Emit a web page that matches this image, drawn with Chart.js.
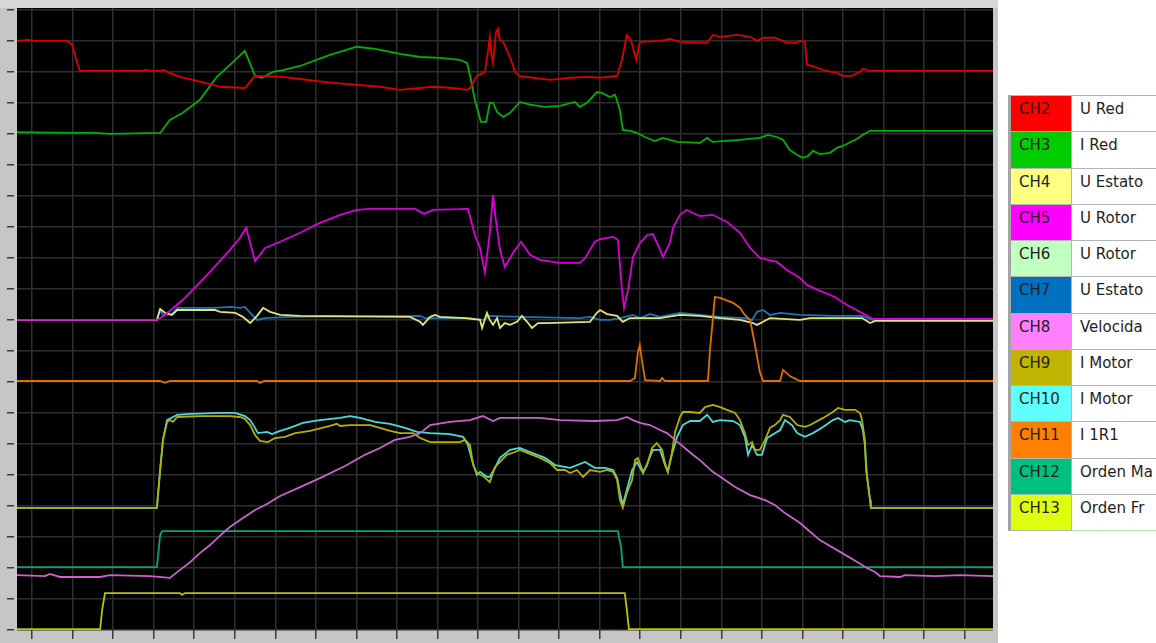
<!DOCTYPE html>
<html>
<head>
<meta charset="utf-8">
<title>Registro de canales</title>
<script src="https://cdn.jsdelivr.net/npm/chart.js@4.4.1/dist/chart.umd.min.js"></script>
<style>
  body { margin: 0; background: #fff; width: 1156px; height: 643px; overflow: hidden; position: relative; font-family: "DejaVu Sans", sans-serif; }
  #scope { position: absolute; left: 0; top: 0; width: 998px; height: 643px; }
  #channels { position: absolute; left: 1008px; top: 95px; width: 180px; table-layout: fixed; border-collapse: collapse; border-left: 3px solid #a4a4a4; }
  #channels tr { height: 36.25px; }
  #channels td { border: 1px solid #b4b4b4; padding: 4px 0 0 8px; vertical-align: top; font-size: 15px; color: #1e1e1e; white-space: nowrap; overflow: hidden; }
  #channels td.code { width: 52px; }
  #channels td.name { background: #fff; }
  #channels tr:last-child td.name { border-bottom-color: #a8e8a8; }
</style>
</head>
<body>
<canvas id="scope" width="998" height="643"></canvas>
<table id="channels"></table>
<script>
// channel list, as in the recorder's legend
const channelCodes = ['CH2', 'CH3', 'CH4', 'CH5', 'CH6', 'CH7', 'CH8', 'CH9', 'CH10', 'CH11', 'CH12', 'CH13'];
const channelNames = ['U Red', 'I Red', 'U Estato', 'U Rotor', 'U Rotor', 'U Estato', 'Velocida', 'I Motor', 'I Motor', 'I 1R1', 'Orden Ma', 'Orden Fr'];
const swatchColors = ['#ff0000', '#00cc00', '#ffff80', '#ff00ff', '#c0ffc0', '#0070c0', '#ff80ff', '#c0b400', '#60ffff', '#ff8000', '#00c080', '#dfff10'];
const traceColors = ['#d80000', '#00b000', '#e4e47c', '#d800d8', '#b0f0b0', '#1a74b8', '#c864c8', '#b4b000', '#48dcdc', '#e07000', '#00a874', '#bcc400'];

// traces: [time (div), level (div)]
const uRed = [[-0.37, 19.00], [-0.10, 19.03], [0.07, 19.00], [0.86, 19.00], [0.99, 18.87], [1.09, 18.39], [1.18, 18.03],
  [2.74, 18.03], [2.79, 18.06], [2.91, 18.03], [3.16, 18.03], [3.23, 18.06], [3.40, 17.97], [3.65, 17.84], [4.07, 17.71],
  [4.46, 17.58], [4.64, 17.52], [5.25, 17.48], [5.50, 17.87], [6.19, 17.84], [6.61, 17.77], [7.35, 17.65], [8.58, 17.52],
  [9.08, 17.42], [9.89, 17.52], [10.38, 17.48], [10.73, 17.42], [10.80, 17.48], [10.97, 17.87], [11.17, 18.00], [11.25, 18.71],
  [11.29, 19.13], [11.32, 18.71], [11.37, 18.29], [11.44, 19.26], [11.49, 19.39], [11.54, 19.03], [11.62, 18.97], [11.71, 18.71],
  [11.81, 18.39], [11.91, 18.00], [12.01, 17.87], [12.36, 17.81], [12.77, 17.74], [13.27, 17.81], [13.76, 17.84], [14.01, 17.81],
  [14.43, 17.87], [14.55, 18.39], [14.67, 19.19], [14.77, 19.03], [14.90, 18.39], [14.99, 18.97], [15.49, 19.00], [15.73, 19.06],
  [15.98, 18.97], [16.65, 18.94], [16.79, 19.19], [16.97, 19.13], [17.39, 19.19], [17.71, 19.13], [17.88, 19.00], [18.03, 19.10],
  [18.32, 19.10], [18.62, 18.94], [18.87, 18.94], [18.94, 19.00], [19.06, 18.97], [19.11, 18.23], [19.31, 18.16], [19.51, 18.06],
  [19.85, 17.97], [20.00, 17.87], [20.22, 17.87], [20.42, 18.00], [20.49, 18.10], [20.67, 18.03], [23.70, 18.03]];

const iRed = [[-0.37, 16.06], [0.94, 16.03], [1.55, 16.03], [1.92, 16.00], [3.16, 16.03], [3.40, 16.45], [3.72, 16.68],
  [4.14, 17.10], [4.56, 17.84], [4.96, 18.32], [5.25, 18.68], [5.50, 17.87], [5.67, 17.81], [5.94, 18.00], [6.19, 18.06],
  [6.61, 18.19], [7.35, 18.55], [8.01, 18.81], [8.46, 18.74], [9.08, 18.58], [9.57, 18.48], [10.06, 18.45], [10.55, 18.39],
  [10.73, 18.29], [10.80, 17.90], [10.92, 17.10], [11.07, 16.39], [11.20, 16.39], [11.29, 17.00], [11.37, 17.00], [11.47, 16.71],
  [11.62, 16.55], [11.79, 16.68], [12.03, 17.03], [12.28, 16.94], [12.65, 16.87], [13.02, 16.90], [13.39, 17.03], [13.51, 16.87],
  [13.69, 17.00], [13.93, 17.35], [14.06, 17.32], [14.25, 17.19], [14.38, 17.26], [14.50, 16.77], [14.57, 16.13], [14.75, 16.10],
  [14.92, 16.03], [15.12, 15.90], [15.36, 15.77], [15.56, 15.87], [15.73, 15.81], [15.91, 15.74], [16.47, 15.71], [16.65, 15.87],
  [16.79, 15.74], [17.46, 15.81], [17.95, 15.87], [18.15, 15.97], [18.37, 15.90], [18.52, 15.81], [18.69, 15.48], [18.87, 15.32],
  [19.01, 15.23], [19.14, 15.29], [19.26, 15.45], [19.43, 15.35], [19.68, 15.39], [19.85, 15.55], [20.00, 15.61], [20.35, 15.84],
  [20.49, 15.97], [20.67, 16.10], [23.70, 16.10]];

const uEstato4 = [[-0.37, 10.00], [3.08, 10.00], [3.16, 10.35], [3.28, 10.23], [3.45, 10.16], [3.58, 10.32], [4.51, 10.32],
  [4.64, 10.26], [5.01, 10.23], [5.20, 10.10], [5.38, 9.90], [5.55, 10.13], [5.70, 10.39], [5.87, 10.26], [6.12, 10.16],
  [6.61, 10.13], [9.32, 10.10], [9.57, 9.94], [9.64, 9.84], [9.82, 10.10], [9.94, 10.16], [10.06, 10.10], [10.68, 10.06],
  [11.05, 10.00], [11.10, 9.74], [11.22, 10.23], [11.29, 10.00], [11.37, 9.84], [11.47, 10.06], [11.54, 9.74], [11.66, 9.90],
  [11.79, 9.84], [11.96, 9.94], [12.08, 10.13], [12.21, 9.94], [12.33, 9.74], [12.48, 9.90], [12.65, 9.90], [13.76, 9.94],
  [13.93, 10.23], [14.01, 10.32], [14.18, 10.19], [14.43, 10.13], [14.57, 9.94], [14.75, 10.06], [15.49, 10.06], [15.98, 10.16],
  [16.47, 10.13], [16.97, 10.06], [17.46, 10.00], [17.78, 9.90], [17.88, 9.84], [18.03, 9.94], [18.20, 10.06], [18.94, 10.00],
  [19.19, 10.06], [20.47, 10.06], [20.67, 9.90], [20.79, 9.97], [23.70, 9.97]];

const uRotor = [[-0.37, 10.00], [3.08, 10.00], [3.28, 10.16], [3.72, 10.65], [4.32, 11.45], [4.88, 12.26], [5.13, 12.65],
  [5.28, 12.97], [5.50, 11.90], [5.75, 12.32], [6.12, 12.52], [6.61, 12.81], [7.10, 13.13], [7.60, 13.39], [8.01, 13.55],
  [8.34, 13.58], [9.45, 13.58], [9.67, 13.42], [9.89, 13.55], [10.75, 13.58], [10.80, 13.35], [10.92, 12.74], [11.05, 12.32],
  [11.17, 11.52], [11.29, 12.81], [11.37, 14.03], [11.44, 13.23], [11.54, 12.26], [11.66, 11.71], [11.86, 12.16], [12.06, 12.52],
  [12.28, 12.10], [12.53, 11.94], [13.02, 11.84], [13.51, 11.84], [13.64, 12.00], [13.88, 12.52], [14.01, 12.61], [14.33, 12.68],
  [14.45, 12.58], [14.55, 10.97], [14.60, 10.39], [14.70, 10.97], [14.82, 12.03], [14.99, 12.48], [15.17, 12.74], [15.31, 12.77],
  [15.49, 12.26], [15.56, 12.03], [15.73, 12.48], [15.81, 12.97], [15.98, 13.39], [16.15, 13.55], [16.30, 13.45], [16.47, 13.35],
  [16.79, 13.39], [17.14, 13.16], [17.46, 12.81], [17.71, 12.32], [17.95, 12.00], [18.15, 11.94], [18.37, 11.87], [18.62, 11.61],
  [18.94, 11.35], [19.11, 11.13], [19.38, 10.97], [19.80, 10.74], [20.10, 10.48], [20.42, 10.26], [20.74, 10.03], [23.70, 10.03]];

const uEstato7 = [[-0.37, 10.00], [3.08, 10.00], [3.16, 10.32], [3.23, 10.16], [3.45, 10.19], [3.58, 10.39], [4.51, 10.39],
  [4.88, 10.42], [5.13, 10.39], [5.25, 10.42], [5.38, 10.23], [5.55, 10.00], [5.75, 10.06], [6.36, 10.10], [9.57, 10.13],
  [9.69, 10.06], [10.80, 10.06], [11.12, 10.00], [11.29, 10.13], [12.03, 10.10], [13.51, 10.06], [13.76, 10.10], [14.01, 10.00],
  [14.25, 10.00], [14.50, 10.06], [14.82, 10.16], [14.99, 10.06], [15.24, 10.19], [15.49, 10.10], [15.73, 10.16], [15.98, 10.23],
  [16.47, 10.16], [16.97, 10.10], [17.58, 10.06], [17.76, 10.00], [17.88, 10.26], [18.03, 10.32], [18.20, 10.16], [18.45, 10.23],
  [18.94, 10.16], [19.80, 10.13], [20.47, 10.13], [20.62, 10.06], [20.74, 10.00], [23.70, 10.00]];

const velocidad = [[-0.37, 1.77], [0.32, 1.74], [0.44, 1.81], [0.69, 1.71], [1.68, 1.71], [1.92, 1.77], [2.91, 1.74],
  [3.40, 1.68], [3.65, 1.94], [3.90, 2.19], [4.14, 2.48], [4.39, 2.74], [4.71, 3.13], [4.88, 3.32], [5.13, 3.55], [5.50, 3.87],
  [5.75, 4.03], [6.12, 4.32], [6.61, 4.61], [7.10, 4.90], [7.72, 5.29], [8.21, 5.65], [8.58, 5.87], [8.95, 6.13], [9.32, 6.23],
  [9.57, 6.35], [9.82, 6.61], [10.31, 6.71], [10.80, 6.77], [11.12, 6.90], [11.37, 6.74], [11.54, 6.84], [12.53, 6.84],
  [13.02, 6.77], [13.88, 6.74], [14.43, 6.77], [14.67, 6.87], [14.82, 6.77], [14.99, 6.68], [15.24, 6.61], [15.49, 6.45],
  [15.66, 6.35], [15.86, 6.13], [16.10, 5.87], [16.30, 5.65], [16.47, 5.48], [16.79, 5.10], [17.09, 4.84], [17.34, 4.61],
  [17.71, 4.35], [18.08, 4.19], [18.32, 4.03], [18.57, 3.77], [18.94, 3.45], [19.43, 2.90], [19.93, 2.52], [20.35, 2.19],
  [20.59, 2.00], [20.79, 1.87], [20.91, 1.74], [21.41, 1.71], [21.53, 1.77], [22.27, 1.74], [22.89, 1.77], [23.70, 1.74]];

const iMotor9 = [[-0.37, 3.94], [3.08, 3.94], [3.16, 5.16], [3.23, 6.13], [3.33, 6.71], [3.40, 6.77], [3.48, 6.71], [3.58, 6.87],
  [4.14, 6.90], [4.88, 6.90], [5.13, 6.87], [5.25, 6.81], [5.38, 6.61], [5.50, 6.29], [5.62, 6.10], [5.82, 6.06], [5.99, 6.19],
  [6.24, 6.23], [6.49, 6.35], [6.86, 6.42], [7.35, 6.58], [7.52, 6.65], [7.60, 6.58], [7.84, 6.61], [8.34, 6.61], [8.58, 6.52],
  [8.83, 6.42], [9.08, 6.35], [9.40, 6.35], [9.57, 6.19], [9.82, 6.06], [10.55, 6.06], [10.68, 6.13], [10.80, 5.97], [10.88, 5.32],
  [10.97, 5.06], [11.12, 4.97], [11.29, 4.77], [11.42, 5.26], [11.54, 5.42], [11.71, 5.65], [11.91, 5.74], [12.03, 5.81],
  [12.28, 5.68], [12.53, 5.55], [12.77, 5.39], [12.95, 5.16], [13.14, 5.16], [13.27, 5.06], [13.44, 5.16], [13.59, 4.94],
  [13.76, 5.16], [14.01, 5.10], [14.18, 5.16], [14.33, 5.10], [14.43, 4.84], [14.50, 4.19], [14.57, 3.94], [14.67, 4.42],
  [14.80, 4.84], [14.87, 5.48], [14.94, 5.55], [15.07, 5.10], [15.17, 5.32], [15.29, 5.87], [15.41, 6.03], [15.54, 5.81],
  [15.61, 5.39], [15.68, 5.10], [15.78, 5.71], [15.86, 6.39], [15.98, 6.87], [16.05, 7.03], [16.23, 7.03], [16.47, 7.00],
  [16.60, 7.19], [16.79, 7.26], [16.97, 7.19], [17.14, 7.10], [17.34, 7.00], [17.46, 6.77], [17.58, 6.35], [17.66, 5.97],
  [17.76, 6.06], [17.83, 5.81], [17.95, 5.81], [18.08, 6.13], [18.20, 6.52], [18.32, 6.61], [18.45, 6.77], [18.52, 6.94],
  [18.69, 6.87], [18.87, 6.61], [19.06, 6.55], [19.19, 6.61], [19.51, 6.84], [19.75, 7.03], [19.88, 7.16], [20.05, 7.10],
  [20.30, 7.10], [20.42, 7.00], [20.47, 6.77], [20.54, 6.13], [20.57, 5.16], [20.67, 4.19], [20.69, 3.94], [23.70, 3.94]];

const iMotor10 = [[-0.37, 3.94], [3.08, 3.94], [3.16, 5.16], [3.23, 6.13], [3.33, 6.77], [3.58, 6.94], [3.90, 6.97],
  [4.64, 7.00], [5.01, 7.00], [5.25, 6.90], [5.38, 6.77], [5.50, 6.52], [5.57, 6.35], [5.80, 6.39], [5.92, 6.32], [6.12, 6.42],
  [6.36, 6.52], [6.68, 6.68], [7.10, 6.77], [7.60, 6.84], [7.84, 6.90], [8.09, 6.84], [8.46, 6.71], [8.83, 6.65], [9.20, 6.52],
  [9.49, 6.39], [9.82, 6.35], [10.31, 6.32], [10.63, 6.23], [10.75, 5.97], [10.85, 5.48], [10.97, 5.00], [11.05, 5.10],
  [11.22, 4.94], [11.29, 4.94], [11.42, 5.23], [11.54, 5.55], [11.79, 5.81], [12.03, 5.87], [12.28, 5.74], [12.65, 5.55],
  [12.90, 5.32], [13.27, 5.23], [13.64, 5.42], [13.88, 5.23], [14.13, 5.23], [14.33, 5.16], [14.43, 4.90], [14.50, 4.42],
  [14.57, 4.03], [14.67, 4.52], [14.80, 5.16], [14.92, 5.42], [15.07, 5.06], [15.19, 5.42], [15.31, 5.81], [15.49, 5.81],
  [15.61, 5.32], [15.68, 5.10], [15.78, 5.65], [15.91, 6.23], [16.05, 6.61], [16.23, 6.74], [16.47, 6.74], [16.65, 6.94],
  [16.79, 6.71], [16.97, 6.77], [17.29, 6.74], [17.46, 6.61], [17.58, 6.23], [17.66, 5.65], [17.76, 5.97], [17.88, 5.65],
  [18.00, 5.65], [18.13, 6.19], [18.25, 6.29], [18.45, 6.45], [18.57, 6.77], [18.74, 6.61], [18.87, 6.35], [19.06, 6.23],
  [19.26, 6.35], [19.51, 6.55], [19.75, 6.77], [19.88, 6.84], [20.05, 6.71], [20.17, 6.77], [20.42, 6.71], [20.49, 6.45],
  [20.54, 5.97], [20.59, 5.00], [20.69, 3.94], [23.70, 3.94]];

const i1R1 = [[-0.37, 8.03], [3.16, 8.03], [3.28, 7.97], [3.40, 8.03], [5.55, 8.03], [5.62, 7.97], [5.72, 8.03], [14.75, 8.03],
  [14.87, 8.13], [14.94, 8.94], [14.99, 9.19], [15.04, 8.71], [15.12, 8.06], [15.49, 8.03], [15.54, 8.13], [15.61, 8.03],
  [16.67, 8.03], [16.72, 9.03], [16.79, 10.00], [16.84, 10.74], [16.97, 10.71], [17.29, 10.55], [17.46, 10.39], [17.58, 10.16],
  [17.71, 10.00], [17.83, 9.19], [17.95, 8.32], [18.03, 8.03], [18.45, 8.03], [18.52, 8.39], [18.69, 8.19], [18.94, 8.03],
  [23.70, 8.03]];

const ordenMa = [[-0.37, 2.03], [3.08, 2.03], [3.16, 3.06], [3.21, 3.19], [14.45, 3.19], [14.53, 2.65], [14.57, 2.03], [23.70, 2.03]];

const ordenFr = [[-0.37, 0.03], [1.68, 0.03], [1.73, 0.65], [1.80, 1.19], [3.65, 1.19], [3.70, 1.13], [3.77, 1.19],
  [14.62, 1.19], [14.67, 0.65], [14.72, 0.03], [23.70, 0.03]];

// draw order: first entry ends up on top
const traces = [
  ['CH5', uRotor], ['CH2', uRed], ['CH3', iRed], ['CH8', velocidad], ['CH9', iMotor9], ['CH10', iMotor10],
  ['CH12', ordenMa], ['CH13', ordenFr], ['CH11', i1R1], ['CH4', uEstato4], ['CH7', uEstato7]
];

const datasets = traces.map(([code, pts]) => {
  const k = channelCodes.indexOf(code);
  return {
    label: code + ' ' + channelNames[k],
    data: pts.map(([x, y]) => ({ x, y })),
    borderColor: traceColors[k],
    borderWidth: 1.8,
    pointRadius: 0,
    tension: 0,
    fill: false
  };
});

// black screen behind the traces, grey frame around it
const screenBg = {
  id: 'screenBg',
  beforeDraw(chart) {
    const { ctx, chartArea: a, width, height } = chart;
    ctx.save();
    ctx.fillStyle = '#c6c6c6';
    ctx.fillRect(0, 0, width, height);
    ctx.fillStyle = '#d8d8d8';
    ctx.fillRect(0, 0, width, a.top);
    ctx.fillStyle = '#000';
    ctx.fillRect(a.left, a.top, a.right - a.left, a.bottom - a.top);
    ctx.restore();
  }
};

new Chart(document.getElementById('scope'), {
  type: 'line',
  data: { datasets },
  options: {
    responsive: false,
    animation: false,
    events: [],
    layout: { autoPadding: false, padding: { left: 7, top: 8, right: 5, bottom: 1 } },
    plugins: { legend: { display: false }, tooltip: { enabled: false } },
    scales: {
      x: {
        type: 'linear', min: -0.37, max: 23.70,
        border: { display: false },
        grid: { color: '#2e2e2e', lineWidth: 1.5, tickLength: 12, tickColor: '#3a3a3a', tickWidth: 1.5, tickBorderDash: [9, 20] },
        ticks: { display: false, stepSize: 1, includeBounds: false }
      },
      y: {
        type: 'linear', min: 0, max: 20.06,
        border: { display: false },
        grid: { color: '#2e2e2e', lineWidth: 1.5, tickLength: 10, tickColor: '#3a3a3a', tickWidth: 1.5, tickBorderDash: [7, 20] },
        ticks: { display: false, stepSize: 1, includeBounds: false }
      }
    }
  },
  plugins: [screenBg]
});

// legend table
const table = document.getElementById('channels');
channelCodes.forEach((code, i) => {
  const tr = document.createElement('tr');
  const c = document.createElement('td');
  c.className = 'code';
  c.style.background = swatchColors[i];
  c.textContent = code;
  const n = document.createElement('td');
  n.className = 'name';
  n.textContent = channelNames[i];
  tr.appendChild(c);
  tr.appendChild(n);
  table.appendChild(tr);
});
</script>
</body>
</html>
